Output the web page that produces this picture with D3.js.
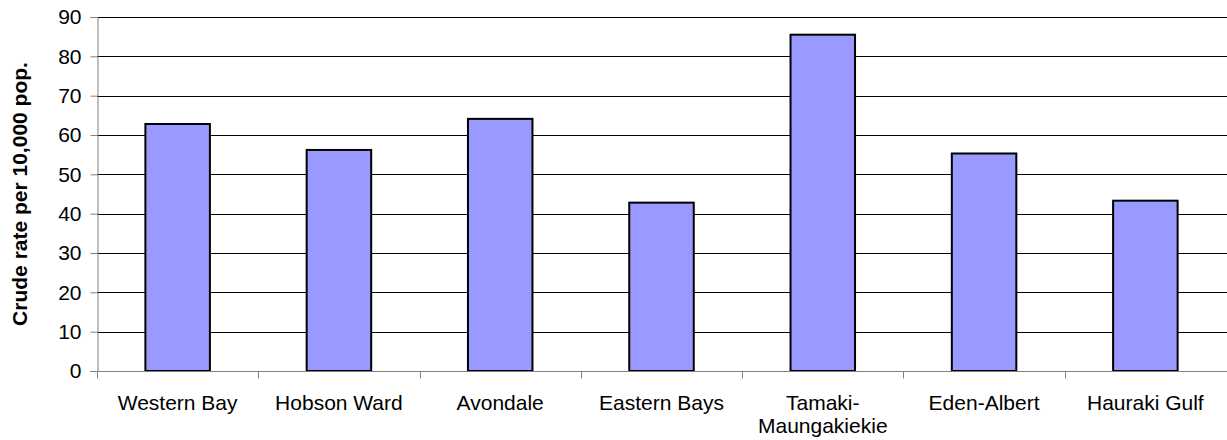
<!DOCTYPE html>
<html>
<head>
<meta charset="utf-8">
<script src="https://cdn.jsdelivr.net/npm/d3@7"></script>
<style>
  body { margin: 0; background: #fff; }
  svg text { font-family: "Liberation Sans", Arial, sans-serif; }
</style>
</head>
<body>
<div class="chart"></div>
<script>
const areas = ["Western Bay", "Hobson Ward", "Avondale", "Eastern Bays", "Tamaki-Maungakiekie", "Eden-Albert", "Hauraki Gulf"];
const rates = [62.8, 56.2, 64.1, 42.8, 85.5, 55.3, 43.3];
const yTicks = [0, 10, 20, 30, 40, 50, 60, 70, 80, 90];

const margin = {top: 17, right: 1, bottom: 69, left: 97},
      width = 1227 - margin.left - margin.right,
      height = 440 - margin.top - margin.bottom;

const svg = d3.select(".chart")
  .append("svg")
    .attr("width", 1227)
    .attr("height", 440)
  .append("g")
    .attr("transform", `translate(${margin.left},${margin.top})`);

const x = d3.scaleBand()
  .domain(areas)
  .range([0, width]);

const y = d3.scaleLinear()
  .domain([0, 90])
  .range([height, 0]);

// gridlines
svg.append("g")
  .selectAll("line")
  .data(yTicks.slice(1))
  .join("line")
    .attr("x1", 0)
    .attr("x2", width + 1)
    .attr("y1", d => Math.round(y(d)) + 0.5)
    .attr("y2", d => Math.round(y(d)) + 0.5)
    .attr("stroke", "#000");

// bars
const barW = x.bandwidth() * 0.4;
svg.selectAll("rect.bar")
  .data(rates)
  .join("rect")
    .attr("class", "bar")
    .attr("x", (d, i) => x(areas[i]) + (x.bandwidth() - barW) / 2)
    .attr("y", d => y(d))
    .attr("width", barW)
    .attr("height", d => height - y(d))
    .attr("fill", "#9999ff")
    .attr("stroke", "#000")
    .attr("stroke-width", 2);

// y axis
const yAxis = svg.append("g")
  .attr("transform", "translate(0.5,0)")
  .call(d3.axisLeft(y).tickValues(yTicks).tickSize(7).tickPadding(9));
yAxis.select(".domain").attr("stroke", "#808080");
yAxis.selectAll(".tick line").attr("stroke", "#808080");
yAxis.selectAll("text")
  .attr("font-size", 21)
  .attr("font-family", "Liberation Sans, Arial, sans-serif")
  .attr("fill", "#000");

// x axis
const xAxis = svg.append("g")
  .attr("transform", `translate(0,${Math.round(height) + 0.5})`);
xAxis.append("line")
  .attr("x1", -7).attr("x2", width + 1)
  .attr("stroke", "#808080");
xAxis.selectAll("line.tk")
  .data(areas)
  .join("line")
    .attr("class", "tk")
    .attr("x1", d => Math.round(x(d)) + 0.5)
    .attr("x2", d => Math.round(x(d)) + 0.5)
    .attr("y1", 0).attr("y2", 7)
    .attr("stroke", "#808080");

xAxis.selectAll("text.lbl")
  .data(areas)
  .join("text")
    .attr("class", "lbl")
    .attr("text-anchor", "middle")
    .attr("font-size", 21)
    .attr("x", d => x(d) + x.bandwidth() / 2)
    .attr("y", 38)
    .each(function(d) {
      const parts = d === "Tamaki-Maungakiekie" ? ["Tamaki-", "Maungakiekie"] : [d];
      d3.select(this).selectAll("tspan")
        .data(parts)
        .join("tspan")
          .attr("x", x(d) + x.bandwidth() / 2)
          .attr("dy", (p, j) => j === 0 ? 0 : 23)
          .text(p => p);
    });

// y axis title
svg.append("text")
  .attr("transform", `translate(-70,${height / 2}) rotate(-90)`)
  .attr("text-anchor", "middle")
  .attr("font-size", 21)
  .attr("font-weight", "bold")
  .text("Crude rate per 10,000 pop.");
</script>
</body>
</html>
